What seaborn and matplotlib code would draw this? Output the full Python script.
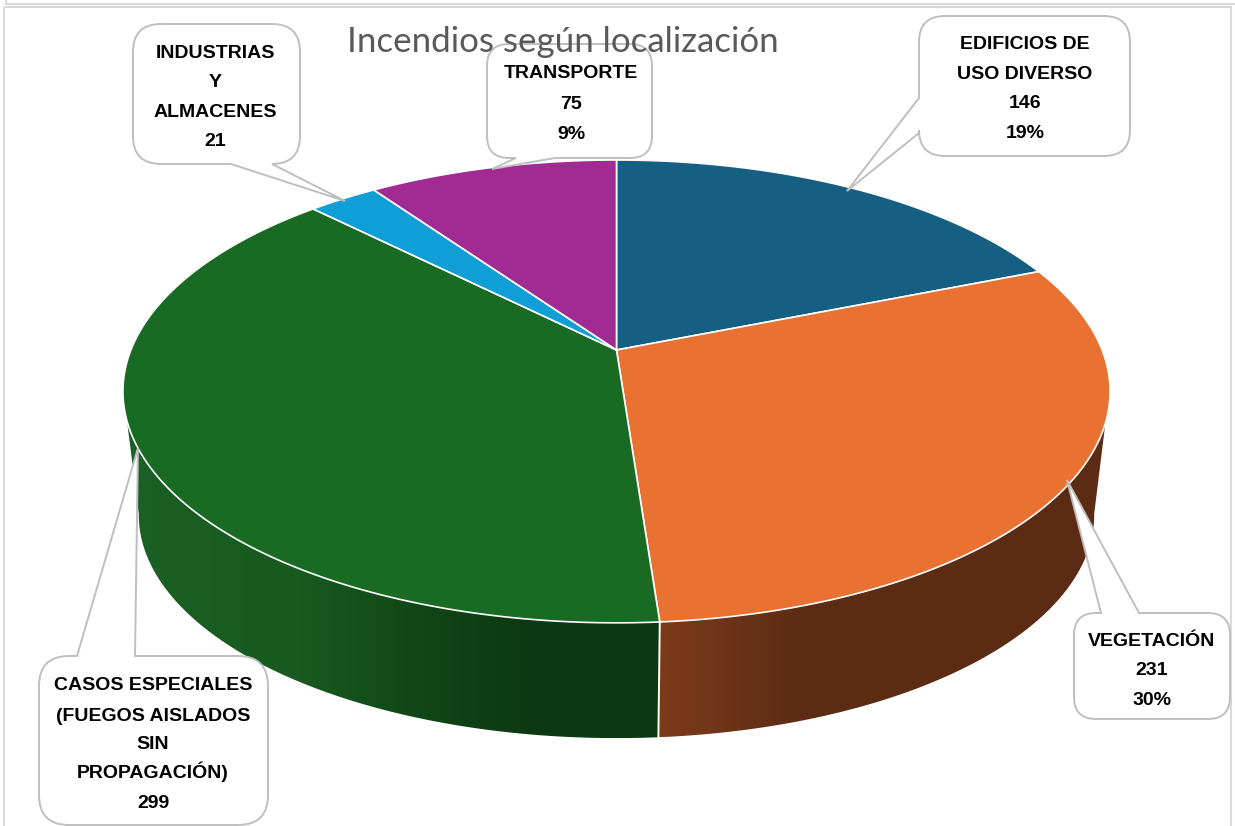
import numpy as np
import matplotlib
matplotlib.use("Agg")
import matplotlib.pyplot as plt
import seaborn as sns
from matplotlib.path import Path
from matplotlib.patches import PathPatch, Polygon, Rectangle
from matplotlib.colors import to_rgb

# ---- data -------------------------------------------------------------
title = "Incendios según localización"
categories = ["EDIFICIOS DE\nUSO DIVERSO", "VEGETACIÓN",
              "CASOS ESPECIALES\n(FUEGOS AISLADOS\nSIN\nPROPAGACIÓN)",
              "INDUSTRIAS\nY\nALMACENES", "TRANSPORTE"]
values = [146, 231, 299, 21, 75]
percent_labels = ["19%", "30%", None, None, "9%"]
hex_colors = ["#156082", "#E97132", "#196B24", "#0F9ED5", "#A02B93"]

sns.set_theme(style="white")
palette = sns.color_palette(hex_colors)

W, H = 1235, 826
fig = plt.figure(figsize=(W / 100, H / 100), dpi=100, facecolor="white")
ax = fig.add_axes([0, 0, 1, 1])
ax.axis("off")

# ---- frame ------------------------------------------------------------
FRAME = "#dadada"
ax.add_patch(Rectangle((4, 7), 1227, 840, fill=False, ec=FRAME, lw=1.5, zorder=1))
ax.plot([6, W], [4, 4], color=FRAME, lw=1.5, zorder=1)
ax.plot([6, 6], [0, 4], color=FRAME, lw=1.5, zorder=1)

# ---- perspective disc -------------------------------------------------
K = 0.179
CX = 616.5


def project(theta_deg, a, b, hub):
    """Clockwise angle from 12 o'clock -> picture position."""
    t = np.radians(theta_deg)
    X, Y = np.sin(t), np.cos(t)
    d = 1 + K * Y
    return CX + a * X / d, hub - b * Y / d


TOP = dict(a=485.6, b=224.0, hub=350.0)
BOT = dict(a=470.0, b=216.0, hub=475.0)

vals = np.asarray(values, float)
edges = np.concatenate([[0], np.cumsum(vals)]) / vals.sum() * 360.0
split = edges[2]

# visible limits of the side wall on the upper and the lower rim
WALL_TOP = (108.0, 252.5)
WALL_BOT = (100.0, 260.0)


def wall_polygon(t0, t1, b0, b1):
    xt, yt = project(np.linspace(t0, t1, 200), **TOP)
    xb, yb = project(np.linspace(b1, b0, 200), **BOT)
    return np.column_stack([np.r_[xt, xb], np.r_[yt, yb]])


def gradient_wall(poly, stops):
    """Horizontal colour ramp clipped to a wall polygon."""
    x0, x1 = poly[:, 0].min(), poly[:, 0].max()
    y0, y1 = poly[:, 1].min(), poly[:, 1].max()
    xs = np.linspace(x0, x1, 512)
    px = [s[0] for s in stops]
    rgb = np.array([to_rgb(s[1]) for s in stops])
    img = np.stack([np.interp(xs, px, rgb[:, k]) for k in range(3)], axis=-1)[None, :, :]
    im = ax.imshow(img, extent=(x0, x1, y1, y0), aspect="auto", zorder=2,
                   interpolation="bilinear")
    clip = Polygon(poly, closed=True, transform=ax.transData)
    im.set_clip_path(clip)


gradient_wall(wall_polygon(WALL_TOP[0], split, WALL_BOT[0], split),
              [(660, "#7d3b1a"), (800, "#5c2c14"), (1110, "#5b2b14")])
gradient_wall(wall_polygon(split, WALL_TOP[1], split, WALL_BOT[1]),
              [(125, "#1b6024"), (300, "#185a20"), (420, "#114616"), (520, "#0e3a12"), (665, "#0d3812")])

ax.set_xlim(0, W)
ax.set_ylim(H, 0)

# white divide on the wall
p0, p1 = project(split, **TOP), project(split, **BOT)
ax.plot([p0[0], p1[0]], [p0[1], p1[1]], color="white", lw=1.4, zorder=3, solid_capstyle="butt")

# top face
for i in range(len(vals)):
    th = np.linspace(edges[i], edges[i + 1], 160)
    xs, ys = project(th, **TOP)
    pts = np.vstack([[(CX, TOP["hub"])], np.column_stack([xs, ys])])
    ax.add_patch(Polygon(pts, closed=True, fc=palette[i], ec="white", lw=1.2,
                         joinstyle="round", zorder=4))


# ---- callouts ---------------------------------------------------------
def callout(x0, y0, x1, y1, r, side, t0, t1, tip):
    """Rounded box with a pointer; t0,t1 are the base ends along `side`."""
    v, c = [(x0 + r, y0)], [Path.MOVETO]

    def line(p):
        v.append(p); c.append(Path.LINETO)

    def corner(ctrl, end):
        v.extend([ctrl, end]); c.extend([Path.CURVE3, Path.CURVE3])

    if side == "top":
        line((t0, y0)); line(tip); line((t1, y0))
    line((x1 - r, y0)); corner((x1, y0), (x1, y0 + r))
    line((x1, y1 - r)); corner((x1, y1), (x1 - r, y1))
    if side == "bottom":
        line((t1, y1)); line(tip); line((t0, y1))
    line((x0 + r, y1)); corner((x0, y1), (x0, y1 - r))
    if side == "left":
        line((x0, t1)); line(tip); line((x0, t0))
    line((x0, y0 + r)); corner((x0, y0), (x0 + r, y0))
    c.append(Path.CLOSEPOLY); v.append((x0 + r, y0))
    ax.add_patch(PathPatch(Path(v, c), fc="white", ec="#bfbfbf", lw=1.4,
                           joinstyle="miter", zorder=6))


LABEL_FONT = dict(family="Liberation Sans", fontweight="bold", fontsize=14,
                  color="black", ha="center", va="baseline", zorder=7)

# (box, radius, pointer side, pointer base, pointer tip, text x, baselines)
layout = {
    0: ((919, 16, 1130, 156), 26, "left", (98, 133), (847, 191), 1025, [49, 79, 108, 138]),
    1: ((1074, 613, 1230, 719), 22, "top", (1101, 1139), (1067, 480), 1152, [646, 675, 705]),
    2: ((39, 656, 268, 825), 30, "top", (77, 135), (138, 448), 153, [690, 721, 749, 778, 808]),
    3: ((133, 24, 300, 164), 28, "bottom", (231, 272), (345, 201), 215, [58, 87, 117, 146]),
    4: ((487, 44, 652, 158), 22, "bottom", (516, 555), (492, 169), 571, [78.5, 109, 139]),
}
for i, cat in enumerate(categories):
    (x0, y0, x1, y1), r, side, (t0, t1), tip, tx, lys = layout[i]
    callout(x0, y0, x1, y1, r, side, t0, t1, tip)
    lines = cat.split("\n") + [str(values[i])]
    if percent_labels[i]:
        lines.append(percent_labels[i])
    for s, ly in zip(lines, lys):
        ax.text(tx, ly, s, **LABEL_FONT)

# ---- title ------------------------------------------------------------
ax.text(562.5, 52, title, family="Lato", fontsize=25.1, color="#595959",
        ha="center", va="baseline", zorder=8)

fig.savefig("out.png", dpi=100, facecolor="white")
